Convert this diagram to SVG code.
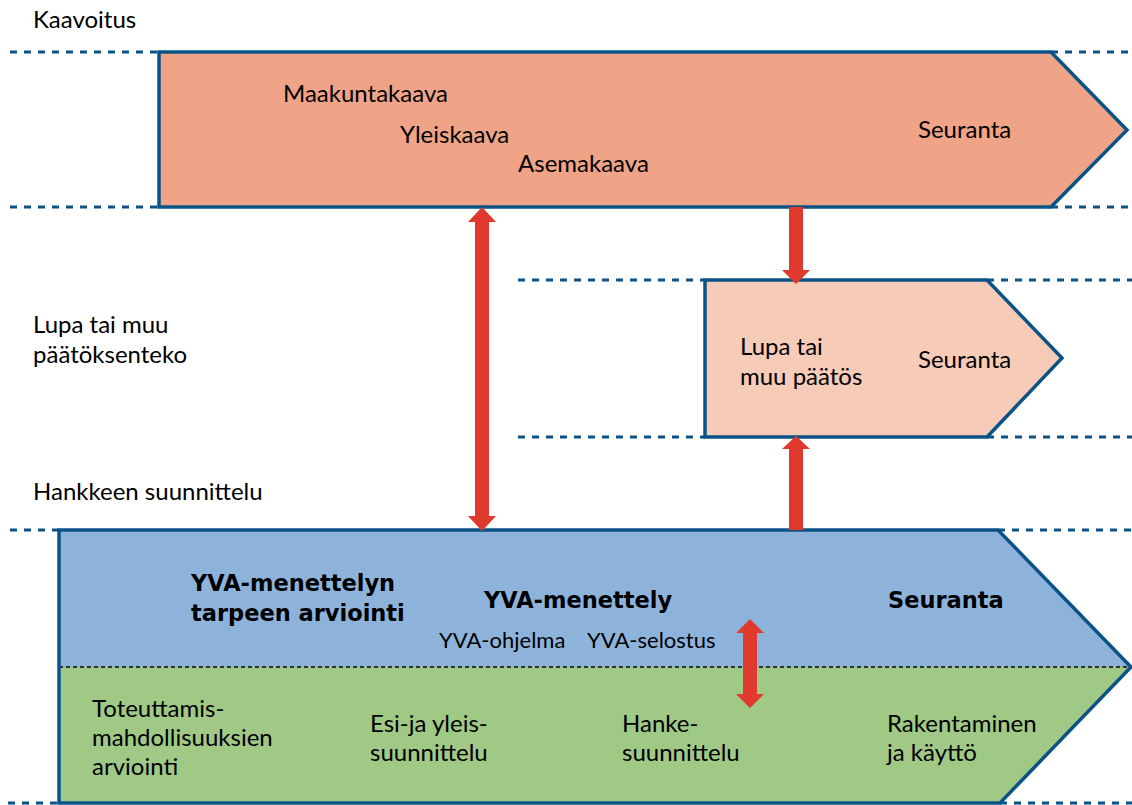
<svg xmlns="http://www.w3.org/2000/svg" width="1132" height="805" viewBox="0 0 1132 805">
<style>
.dash{stroke:#0b5386;stroke-width:3;stroke-dasharray:7 7;fill:none}
.shape{stroke:#0b5386;stroke-width:3.5;stroke-linejoin:miter}
.t{font-family:Lato,"Liberation Sans",sans-serif;font-size:24px;fill:#000}
.b{font-family:"DejaVu Sans","Liberation Sans",sans-serif;font-size:22.5px;font-weight:bold;fill:#000}
.s{font-family:Lato,"Liberation Sans",sans-serif;font-size:22px;fill:#000}
.arr{fill:#e03a2e}
</style>
<rect width="1132" height="805" fill="#fff"/>
<g id="guides">
<line class="dash" x1="10" y1="52" x2="159" y2="52"/>
<line class="dash" x1="1051" y1="52" x2="1132" y2="52"/>
<line class="dash" x1="10" y1="207" x2="159" y2="207"/>
<line class="dash" x1="1051" y1="207" x2="1132" y2="207"/>
<line class="dash" x1="518" y1="280" x2="705" y2="280"/>
<line class="dash" x1="987" y1="280" x2="1132" y2="280"/>
<line class="dash" x1="518" y1="437" x2="705" y2="437"/>
<line class="dash" x1="987" y1="437" x2="1132" y2="437"/>
<line class="dash" x1="10" y1="530" x2="59" y2="530"/>
<line class="dash" x1="998" y1="530" x2="1132" y2="530"/>
<line class="dash" x1="8" y1="803" x2="59" y2="803"/>
<line class="dash" x1="1000" y1="803" x2="1132" y2="803"/>
</g>
<g id="lane-labels">
<text class="t" x="33" y="28">Kaavoitus</text>
<text class="t" x="33" y="333">Lupa tai muu</text>
<text class="t" x="33" y="363">päätöksenteko</text>
<text class="t" x="33" y="500">Hankkeen suunnittelu</text>
</g>
<g id="kaavoitus">
<polygon class="shape" fill="#efa488" points="159,52 1051,52 1127,130 1051,207 159,207"/>
<text class="t" x="283" y="102">Maakuntakaava</text>
<text class="t" x="400" y="143">Yleiskaava</text>
<text class="t" x="518" y="172">Asemakaava</text>
<text class="t" x="918" y="138">Seuranta</text>
</g>
<g id="lupa">
<polygon class="shape" fill="#f6cbb8" points="705,280 987,280 1062,358 987,437 705,437"/>
<text class="t" x="740" y="355">Lupa tai</text>
<text class="t" x="740" y="385">muu päätös</text>
<text class="t" x="918" y="368">Seuranta</text>
</g>
<g id="hanke">
<polygon fill="#8db3db" points="59,530 998,530 1131,667 59,667"/>
<polygon fill="#a0c985" points="59,667 1131,667 1000,803 59,803"/>
<line x1="59" y1="667" x2="1131" y2="667" stroke="#333" stroke-width="2" stroke-dasharray="4 3"/>
<polygon class="shape" fill="none" points="59,530 998,530 1131,667 1000,803 59,803"/>
<text class="b" x="191" y="591">YVA-menettelyn</text>
<text class="b" x="191" y="621">tarpeen arviointi</text>
<text class="b" x="484" y="608">YVA-menettely</text>
<text class="b" x="888" y="608">Seuranta</text>
<text class="s" x="439" y="648">YVA-ohjelma</text>
<text class="s" x="587" y="648">YVA-selostus</text>
<text class="t" x="92" y="717">Toteuttamis-</text>
<text class="t" x="92" y="746">mahdollisuuksien</text>
<text class="t" x="92" y="775">arviointi</text>
<text class="t" x="370" y="732">Esi-ja yleis-</text>
<text class="t" x="370" y="761">suunnittelu</text>
<text class="t" x="622" y="732">Hanke-</text>
<text class="t" x="622" y="761">suunnittelu</text>
<text class="t" x="887" y="732">Rakentaminen</text>
<text class="t" x="887" y="761">ja käyttö</text>
</g>
<g id="connectors">
<polygon class="arr" points="482,207 496,222 489,222 489,516 496,516 482,531 468,516 475,516 475,222 468,222"/>
<polygon class="arr" points="789,207 803,207 803,270 810,270 796,284 782,270 789,270"/>
<polygon class="arr" points="796,436 810,449 803,449 803,530 789,530 789,449 782,449"/>
<polygon class="arr" points="750,619 764,633 757,633 757,694 764,694 750,708 736,694 743,694 743,633 736,633"/>
</g>
</svg>
